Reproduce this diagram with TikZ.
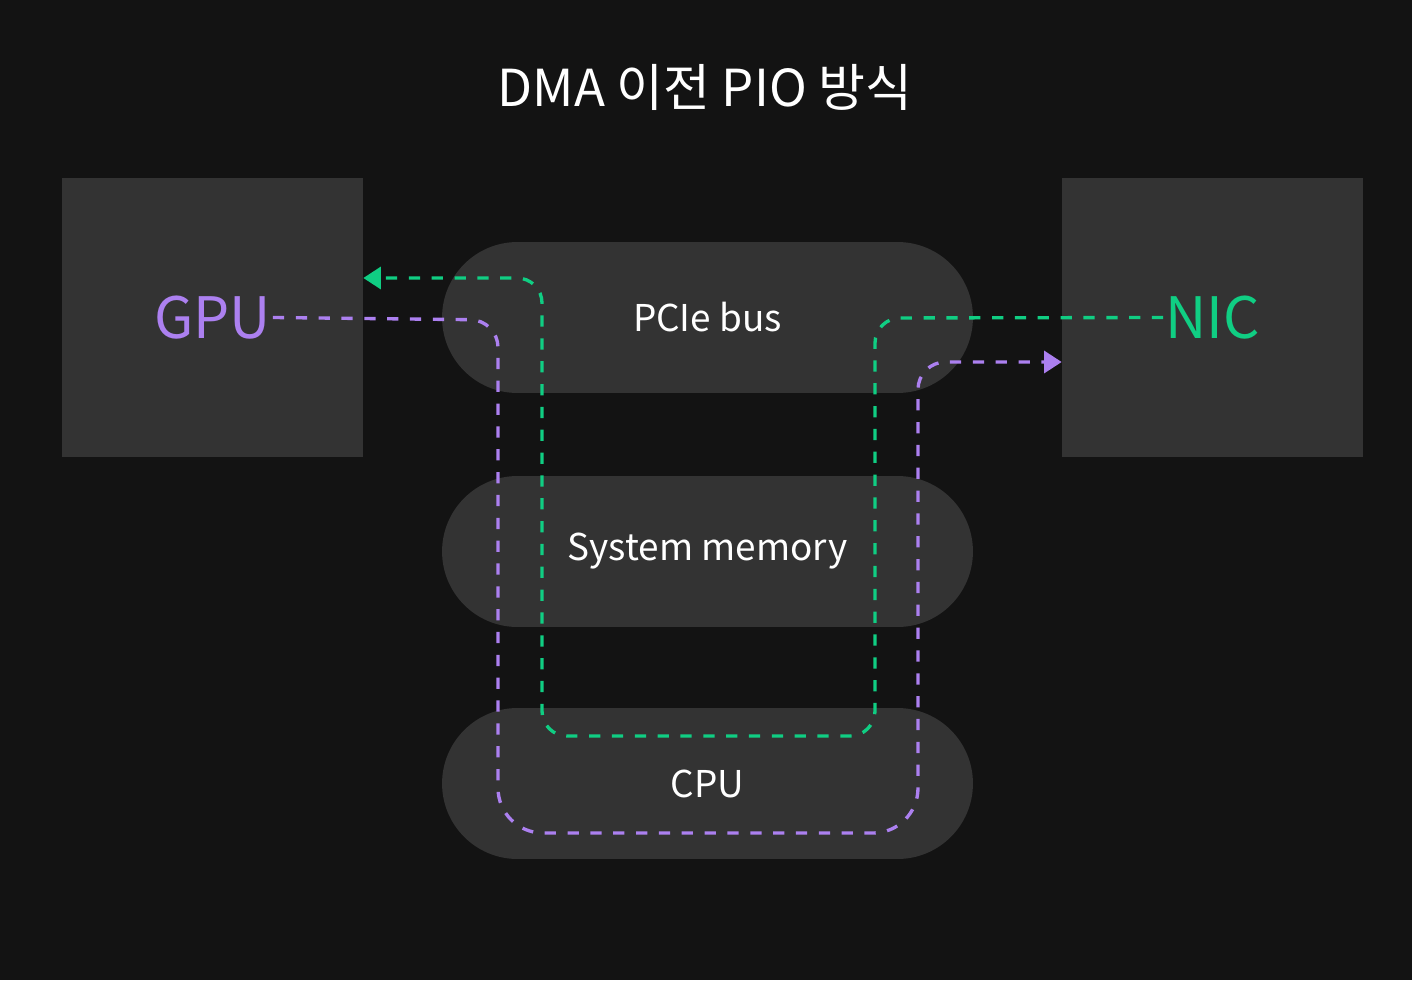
\documentclass[tikz,border=0pt]{standalone}
\usepackage{fontspec}
\setmainfont{Noto Sans CJK KR}
\usetikzlibrary{arrows.meta,positioning}
\definecolor{bgdark}{HTML}{131313}
\definecolor{boxgray}{HTML}{333333}
\definecolor{pioviolet}{HTML}{AC80F0}
\definecolor{piogreen}{HTML}{10CE83}
\tikzset{
  unit/.style={fill=boxgray,minimum width=6.02cm,minimum height=5.58cm,inner sep=0pt},
  pill/.style={fill=boxgray,rounded corners=1.51cm,minimum width=10.62cm,minimum height=3.02cm,text=white,font=\fontsize{21}{25}\selectfont},
  flow/.style={line width=1.9pt,dash pattern=on 6.4pt off 6.6pt,-{Triangle[length=10pt,width=12.5pt]}},
}

\begin{document}
\begin{tikzpicture}[x=0.02cm,y=-0.02cm]
    \fill[bgdark] (0,0) rectangle (1412,980);
    \useasboundingbox (0,0) rectangle (1412,980);

    \node [text=white,font=\fontsize{29}{35}\selectfont] (title) at (705,87) {DMA 이전 PIO 방식};

    \node [unit] (gpu) at (212.5,317.5) {};
    \node [unit] (nic) at (1212.5,317.5) {};
    \node [text=pioviolet,font=\fontsize{32.5}{38}\selectfont,inner sep=1pt] (gpulabel) at (gpu.center) {GPU};
    \node [text=piogreen,font=\fontsize{32.5}{38}\selectfont,inner sep=1pt] (niclabel) at (nic.center) {NIC};

    \node [pill] (pcie) at (707.5,317.5) {PCIe bus};
    \node [pill] (mem) at (707.5,551.5) {System memory};
    \node [pill] (cpu) at (707.5,783.5) {CPU};

    % NIC -> CPU -> GPU
    \draw [flow,piogreen,rounded corners=0.5cm] (niclabel.west) -- (875,318) -- (875,736) -- (542,736) -- (542,278) -- (gpu.east |- 0,278);
    % GPU -> CPU -> NIC
    \draw [flow,pioviolet,rounded corners=0.55cm] (gpulabel.east) -- (498,320) [rounded corners=0.9cm] -- (498,833) -- (918,833) [rounded corners=0.55cm] -- (918,362) -- (nic.west |- 0,362);
\end{tikzpicture}
\end{document}
